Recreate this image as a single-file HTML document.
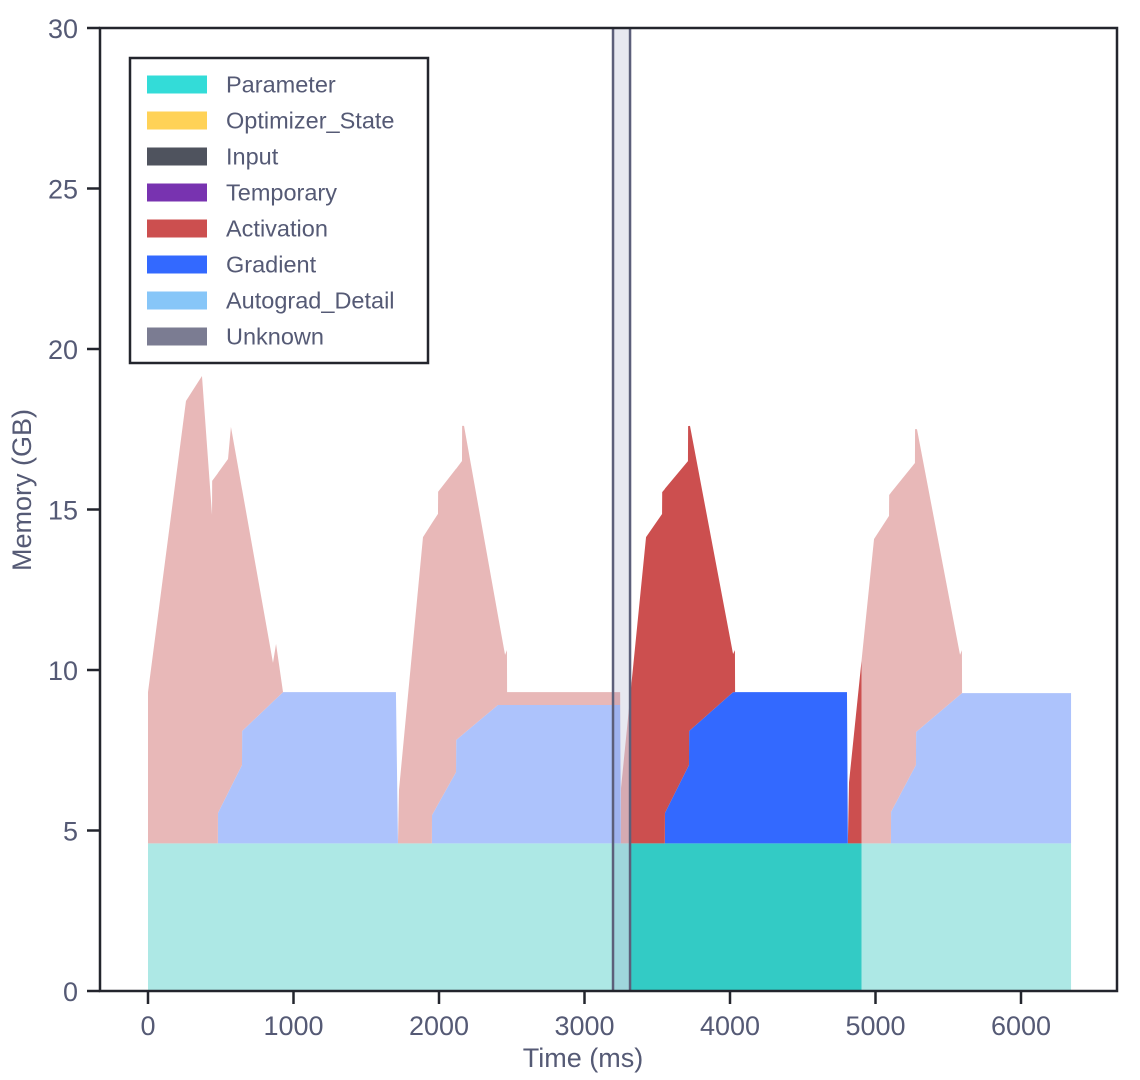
<!DOCTYPE html>
<html><head><meta charset="utf-8"><style>
html,body{margin:0;padding:0;background:#fff;}
svg{display:block;font-family:"Liberation Sans",sans-serif;}
</style></head><body>
<svg id="chart" width="1140" height="1080" viewBox="0 0 1140 1080">
<defs>
<clipPath id="clipDark"><rect id="cdRect" x="0" y="0" width="0" height="1080"/></clipPath>
<clipPath id="clipL"><rect id="clRect" x="0" y="0" width="0" height="1080"/></clipPath>
<clipPath id="clipR"><rect id="crRect" x="0" y="0" width="1140" height="1080"/></clipPath>
</defs>
<g id="series"></g>
<g id="axes"></g>
<g id="legend"></g>
</svg>
<script>
// ---- data ----
const paramT = [0, 6344];
const paramV = [4.6, 4.6];
const gradT = [0,480,481,646,647,928,1704,1718,1951,1952,2117,2118,2405,3245,3250,3552,3553,3718,3719,4021,4804,4810,5106,5107,5278,5279,5594,6344];
const gradV = [0,0,0.95,2.44,3.5,4.71,4.71,0,0,0.88,2.22,3.22,4.31,4.31,0,0,0.95,2.44,3.5,4.71,4.71,0,0,0.98,2.44,3.47,4.68,4.68];
const actT = [0,261,371,440,441,480,481,550,570,646,647,859,880,928,1704,1718,1725,1890,1951,1952,1993,1994,2117,2118,2158,2159,2172,2405,2454,2467,2468,3245,3250,3251,3423,3533,3534,3552,3553,3711,3712,3718,3719,3725,4021,4034,4035,4804,4810,4818,4990,5093,5094,5106,5107,5271,5272,5278,5279,5285,5581,5594,5595,6344];
const actV = [4.71,13.78,14.56,10.23,11.29,11.53,10.59,10.4,11.22,8.6,7.52,1.21,1.71,0,0,0,1.66,9.54,9.97,9.1,9.05,9.73,9.45,8.45,8.54,9.63,9.58,2.79,1.56,1.71,0.4,0.4,0,1.72,9.54,10.26,10.94,11.04,10.1,9.53,10.61,10.56,9.5,9.48,1.19,1.31,0,0,0,1.9,9.48,10.2,10.85,10.92,9.95,9.47,10.52,10.46,9.43,9.41,1.24,1.34,0,0];
const highlightRange = [3196, 4904];
const selectBand = [3196, 3313];
const xTicks = [0,1000,2000,3000,4000,5000,6000];
const yTicks = [0,5,10,15,20,25,30];
const legendLabels = ["Parameter","Optimizer_State","Input","Temporary","Activation","Gradient","Autograd_Detail","Unknown"];
const legendColors = ["#33dcd8","#ffd257","#4f535e","#7833b0","#cc4f4f","#3369ff","#87c6f8","#7b7c92"];

// ---- scales ----
const X0=148, XS=0.14550, Y0=991, YS=32.1;
const sx = t => X0 + t*XS;
const sy = v => Y0 - v*YS;
const NS="http://www.w3.org/2000/svg";
function mk(tag, attrs, parent){const e=document.createElementNS(NS,tag);for(const k in attrs)e.setAttribute(k,attrs[k]);parent.appendChild(e);return e;}
function interp(T,V,t){
  if(t<T[0]||t>T[T.length-1])return 0;
  for(let i=0;i<T.length-1;i++){if(t>=T[i]&&t<=T[i+1]){const d=T[i+1]-T[i];return d===0?V[i+1]:V[i]+(V[i+1]-V[i])*(t-T[i])/d;}}
  return V[V.length-1];
}
const allT = Array.from(new Set([...gradT,...actT])).sort((a,b)=>a-b);
const P = t => interp(paramT,paramV,t);
const G = t => interp(gradT,gradV,t);
const A = t => interp(actT,actV,t);
function band(lower, upper){
  const top = allT.map(t=>sx(t)+","+sy(upper(t)));
  const bot = allT.slice().reverse().map(t=>sx(t)+","+sy(lower(t)));
  return "M"+top.join(" L")+" L"+bot.join(" L")+" Z";
}
document.getElementById('cdRect').setAttribute('x', sx(highlightRange[0]));
document.getElementById('cdRect').setAttribute('width', sx(highlightRange[1])-sx(highlightRange[0]));
document.getElementById('clRect').setAttribute('width', sx(highlightRange[0]));
document.getElementById('crRect').setAttribute('x', sx(highlightRange[1]));

const g = document.getElementById('series');
const layers = [
  {name:'parameter', lo:t=>0, hi:t=>P(t), light:'#ade8e5', dark:'#33cbc5'},
  {name:'gradient', lo:t=>P(t), hi:t=>P(t)+G(t), light:'#adc3fc', dark:'#3369ff'},
  {name:'activation', lo:t=>P(t)+G(t), hi:t=>P(t)+G(t)+A(t), light:'#e8b8b8', dark:'#cc4f4f'}
];
layers.forEach(L=>{
  const d = band(L.lo, L.hi);
  [['clipL',L.light,'-area-left'],['clipR',L.light,'-area-right'],['clipDark',L.dark,'-area-highlight']].forEach(c=>{
    const p = mk('path',{d:d, fill:c[1], 'clip-path':'url(#'+c[0]+')'},g);
    
    
  });
});
// selection band
const bx1=sx(selectBand[0]), bx2=sx(selectBand[1]);
const sb = mk('rect',{x:bx1,y:28,width:bx2-bx1,height:963,fill:'rgba(218,220,232,0.65)'},g);


const sl1 = mk('line',{x1:bx1,x2:bx1,y1:28,y2:991,stroke:'#5c5f7a','stroke-width':2.5},g);


const sl2 = mk('line',{x1:bx2,x2:bx2,y1:28,y2:991,stroke:'#5c5f7a','stroke-width':2.5},g);



// axes
const ax = document.getElementById('axes');
const frame = mk('rect',{x:100,y:28,width:1017,height:963,fill:'none',stroke:'#23252d','stroke-width':2.5},ax);


yTicks.forEach(v=>{
  const y=sy(v);
  const tk=mk('line',{x1:87,x2:100,y1:y,y2:y,stroke:'#23252d','stroke-width':2.5},ax);
  
  
  const tx=mk('text',{x:78,y:y+10,'text-anchor':'end','font-size':27,fill:'#555a75'},ax);
  tx.textContent=v;
  
  
});
xTicks.forEach(v=>{
  const x=sx(v);
  const tk=mk('line',{x1:x,x2:x,y1:991,y2:1004,stroke:'#23252d','stroke-width':2.5},ax);
  
  
  const tx=mk('text',{x:x,y:1035,'text-anchor':'middle','font-size':27,fill:'#555a75'},ax);
  tx.textContent=v;
  
  
});
const xt=mk('text',{x:583,y:1067,'text-anchor':'middle','font-size':27,fill:'#555a75'},ax);
xt.textContent='Time (ms)';


const yt=mk('text',{x:0,y:0,'text-anchor':'middle','font-size':27,fill:'#555a75',transform:'translate(31,490) rotate(-90)'},ax);
yt.textContent='Memory (GB)';



// legend
const lg = document.getElementById('legend');
const lb = mk('rect',{x:130,y:58,width:298,height:305,fill:'#fff',stroke:'#23252d','stroke-width':2.5},lg);


legendLabels.forEach((lab,i)=>{
  const cy=84.5+i*36;
  const sw=mk('rect',{x:147,y:cy-9,width:60,height:18,fill:legendColors[i]},lg);
  
  
  const tx=mk('text',{x:226,y:cy+8,'font-size':23.5,fill:'#555a75'},lg);
  tx.textContent=lab;
  
  
});
</script>
</body></html>
